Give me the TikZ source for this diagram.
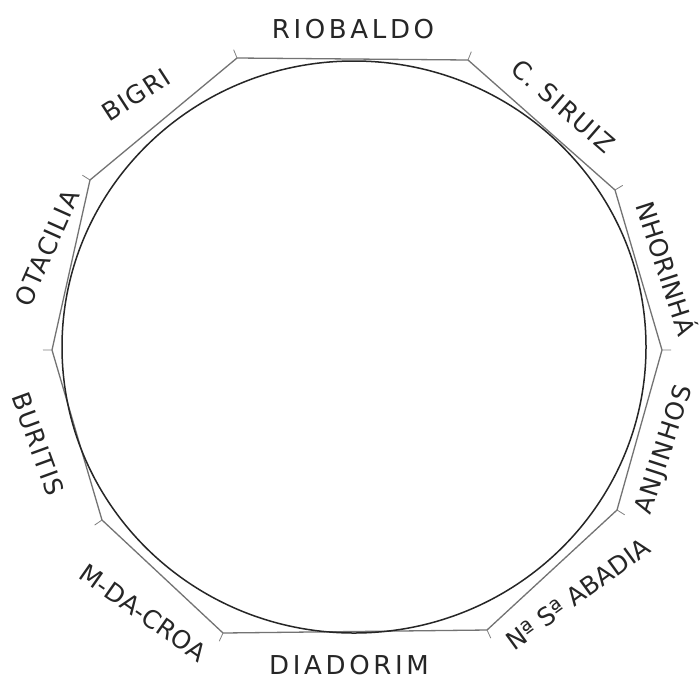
\documentclass[tikz,border=0pt]{standalone}
\usepackage{fontspec}
\usetikzlibrary{calc}
\setmainfont{DejaVu Sans}[LetterSpace=6]
\begin{document}
\begin{tikzpicture}[x=1pt,y=-1pt,
  poly/.style={draw=black!55, line width=1.3pt, line join=round},
  ring/.style={draw=black!85, line width=1.5pt},
  tick/.style={draw=black!50, line width=0.8pt},
  lbl/.style={font=\fontsize{25}{28}\selectfont, text=black!85, inner sep=0pt},
  wide/.style={font=\fontsize{26}{28}\selectfont\addfontfeature{LetterSpace=14}},
  tight/.style={font=\fontsize{25}{28}\selectfont\addfontfeature{LetterSpace=1}}]
\useasboundingbox (0,0) rectangle (700,691);
\fill[white] (0,0) rectangle (700,691);
% decagon vertices
\coordinate (v1) at (237,58);
\coordinate (v2) at (468,60);
\coordinate (v3) at (615,190);
\coordinate (v4) at (662,350);
\coordinate (v5) at (617,510);
\coordinate (v6) at (487,630);
\coordinate (v7) at (223,633);
\coordinate (v8) at (102,520);
\coordinate (v9) at (52,350);
\coordinate (v10) at (90,180);
\coordinate (c) at (354,347);
\draw[poly] (v1) -- (v2) -- (v3) -- (v4) -- (v5) -- (v6) -- (v7) -- (v8) -- (v9) -- (v10) -- cycle;
\foreach \v in {v1,v2,v3,v4,v5,v6,v7,v8,v9,v10}
  \draw[tick] (\v) -- ($(\v)!-9pt!(c)$);
\draw[ring] (c) ellipse [x radius=292, y radius=286];
% labels
\node[lbl, wide] (riobaldo) at (353,29) {RIOBALDO};
\node[lbl, rotate=-41] (siruiz) at (563,106) {C. SIRUIZ};
\node[lbl, tight, rotate=-72] (nhorinha) at (668,268) {NHORINHÁ};
\node[lbl, rotate=72] (anjinhos) at (665,450) {ANJINHOS};
\node[lbl, tight, rotate=36] (abadia) at (578,594) {Nª Sª ABADIA};
\node[lbl, wide] (diadorim) at (349,665) {DIADORIM};
\node[lbl, tight, rotate=-35] (croa) at (143,613) {M-DA-CROA};
\node[lbl, rotate=-70] (buritis) at (38,444) {BURITIS};
\node[lbl, rotate=66] (otacilia) at (47,248) {OTACILIA};
\node[lbl, rotate=33] (bigri) at (136,95) {BIGRI};
\end{tikzpicture}
\end{document}
